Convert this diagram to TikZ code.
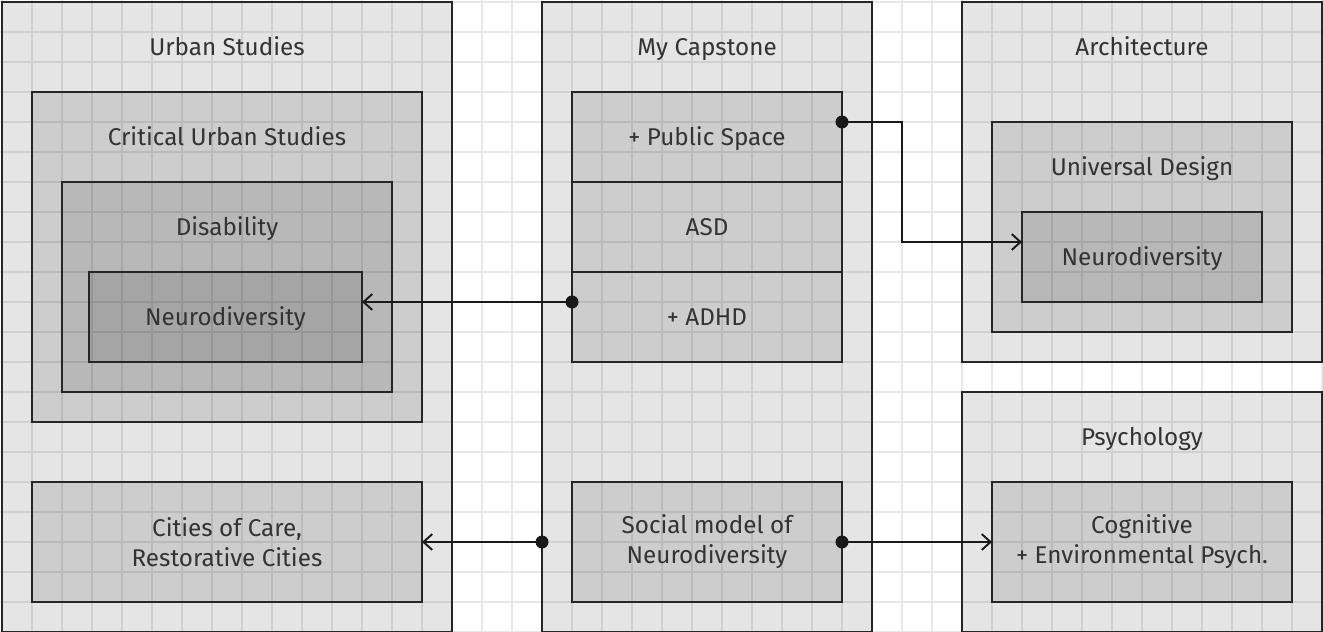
\documentclass[tikz,border=0pt]{standalone}
\usepackage{fontspec}
\setmainfont{Fira Sans}
\usetikzlibrary{arrows.meta,calc}

\begin{document}
\begin{tikzpicture}[x=0.6cm, y=-0.6cm, font=\fontsize{13.8}{17}\selectfont, text=black!80,
  box/.style={shape=rectangle, draw=black!85, line width=1.1pt, fill=black, fill opacity=0.1, text opacity=1, inner sep=0pt, outer sep=0pt, align=center},
  size/.style 2 args={minimum width=#1*0.6cm, minimum height=#2*0.6cm},
  oneline/.style={text height=12.3pt, text depth=2.8pt},
  title/.style={label={[anchor=center, oneline, yshift=-0.9cm]north:#1}},
  gridline/.style={black!9, line width=1pt},
  link/.style={line width=1.1pt, black!90, -{Straight Barb[length=5pt, width=9pt, line width=1.1pt]}}]
\useasboundingbox (-0.0667,-0.0667) rectangle (44.0333,21);
\fill[white] (-0.0667,-0.0667) rectangle (44.0333,21);
\foreach \i in {0,...,44} \draw[gridline] (\i,-0.1) -- (\i,21.1);
\foreach \j in {0,...,21} \draw[gridline] (-0.1,\j) -- (44.1,\j);

% left column
\node [box, size={15}{21}, title=Urban Studies] (urban) at (7.5,10.5) {};
\node [box, size={13}{11}, title=Critical Urban Studies] (critical) at (7.5,8.5) {};
\node [box, size={11}{7}, title=Disability] (disability) at (7.5,9.5) {};
\node [box, oneline, size={9.1}{3}] (neuroL) at (7.45,10.5) {Neurodiversity};
\node [box, size={13}{4}] (care) at (7.5,18) {Cities of Care,\\Restorative Cities};

% middle column
\node [box, size={11}{21}, title=My Capstone] (capstone) at (23.5,10.5) {};
\node [box, oneline, size={9}{3}] (publicspace) at (23.5,4.5) {+ Public Space};
\node [box, oneline, size={9}{3}, below of=publicspace, node distance=1.8cm] (asd) {ASD};
\node [box, oneline, size={9}{3}, below of=asd, node distance=1.8cm] (adhd) {+ ADHD};
\node [box, size={9}{4}] (social) at (23.5,18) {Social model of\\Neurodiversity};

% right column
\node [box, size={12}{12}, title=Architecture] (architecture) at (38,6) {};
\node [box, size={10}{7}, title=Universal Design] (universal) at (38,7.5) {};
\node [box, oneline, size={8}{3}] (neuroR) at (38,8.5) {Neurodiversity};
\node [box, size={12}{8}, title=Psychology] (psychology) at (38,17) {};
\node [box, size={10}{4}] (cognitive) at (38,18) {Cognitive\\+ Environmental Psych.};

\coordinate (psout) at ($(publicspace.north east)!1/3!(publicspace.south east)$);
\coordinate (nrin) at ($(neuroR.north west)!1/3!(neuroR.south west)$);
\coordinate (adhdout) at ($(adhd.north west)!1/3!(adhd.south west)$);
\coordinate (capout) at (capstone.west |- care.east);

\draw[link] (psout) -- ++(2,0) |- (nrin);
\draw[link] (adhdout) -- (neuroL.east |- adhdout);
\draw[link] (capout) -- (care.east);
\draw[link] (social.east) -- (cognitive.west);
\fill[black!90] (psout) circle (3.7pt);
\fill[black!90] (adhdout) circle (3.7pt);
\fill[black!90] (capout) circle (3.7pt);
\fill[black!90] (social.east) circle (3.7pt);
\end{tikzpicture}
\end{document}
